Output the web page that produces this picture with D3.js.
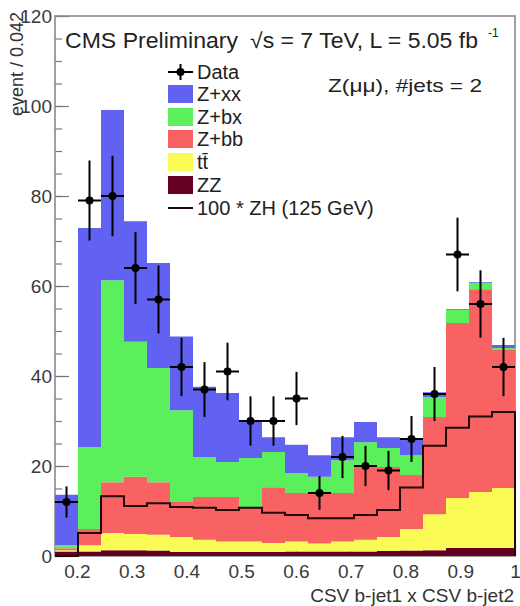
<!DOCTYPE html>
<html>
<head>
<meta charset="utf-8">
<script src="https://cdn.jsdelivr.net/npm/d3@7"></script>
<style>
  html, body { margin: 0; padding: 0; background: #fff; }
  svg { display: block; font-family: "Liberation Sans", Arial, sans-serif; }
</style>
</head>
<body>
<div id="chart"></div>
<script>
// bins of width 0.042 from 0.16 to 1.0 (lower edges)
const binLow = [0.160, 0.202, 0.244, 0.286, 0.328, 0.370, 0.412, 0.454, 0.496, 0.538,
                0.580, 0.622, 0.664, 0.706, 0.748, 0.790, 0.832, 0.874, 0.916, 0.958];
const binWidth = 0.042;

// stacked backgrounds (per-bin contributions, bottom to top)
const zz   = [1.0, 1.0, 1.3, 1.3, 1.2, 0.9, 0.9, 0.9, 0.9, 0.9, 1.0, 1.0, 1.0, 1.0, 1.1, 1.2, 1.3, 1.8, 1.8, 1.8];
const ttbar= [0.3, 1.4, 3.8, 3.6, 3.5, 3.3, 2.7, 2.3, 2.3, 2.0, 2.2, 1.8, 2.2, 2.6, 3.1, 4.8, 8.0, 11.1, 12.4, 13.3];
const zbb  = [0.4, 3.6, 11.3, 12.7, 11.7, 7.8, 9.5, 9.9, 7.7, 12.4, 10.8, 11.2, 10.8, 16.6, 15.6, 12.0, 21.6, 38.9, 45.1, 30.7];
const zbx  = [0.7, 18.2, 44.9, 30.0, 25.4, 20.4, 8.9, 7.8, 10.9, 7.8, 4.4, 3.6, 7.3, 5.1, 4.2, 4.4, 4.4, 2.9, 1.4, 0.4];
const zxx  = [11.2, 48.7, 37.8, 26.8, 23.3, 16.4, 15.6, 15.3, 8.4, 3.3, 6.3, 4.8, 5.1, 4.5, 2.4, 3.4, 1.1, 0.2, 0.2, 0.7];

// signal x100 and data counts
const zh100 = [0, 5.1, 13.3, 11.1, 11.7, 10.9, 10.7, 10.2, 10.7, 9.6, 9.1, 8.4, 8.4, 9.1, 10.2, 15.2, 24.5, 28.5, 31.0, 32.0];
const dataCounts = [12, 79, 80, 64, 57, 42, 37, 41, 30, 30, 35, 14, 22, 20, 19, 26, 36, 67, 56, 42];

const seriesKeys   = ['zz', 'tt', 'zbb', 'zbx', 'zxx'];
const seriesColors = { zz: '#660022', tt: '#fbfb55', zbb: '#f86262', zbx: '#5cef5c', zxx: '#6262f2' };

const xTicks = [0.2, 0.3, 0.4, 0.5, 0.6, 0.7, 0.8, 0.9, 1.0];
const yTicks = [0, 20, 40, 60, 80, 100, 120];

(function () {
  const W = 520, H = 606;
  const svg = d3.select('#chart').append('svg').attr('width', W).attr('height', H);

  const x = d3.scaleLinear().domain([0.16, 1.0]).range([55, 515]);
  const y = d3.scaleLinear().domain([0, 120]).range([556, 16]);

  // ---------- axes (drawn under the fills, like the original) ----------
  const yAxis = svg.append('g').attr('transform', `translate(${x(0.16)},0)`)
    .call(d3.axisLeft(y).tickValues(yTicks).tickSize(-14).tickPadding(3));
  svg.append('g').attr('transform', `translate(${x(0.16)},0)`)
    .call(d3.axisLeft(y).tickValues(d3.range(0, 121, 5)).tickSize(-7).tickFormat(''))
    .call(g => g.select('.domain').remove());
  yAxis.select('.domain').remove();

  const xAxis = svg.append('g').attr('transform', `translate(0,${y(0)})`)
    .call(d3.axisBottom(x).tickValues(xTicks).tickSize(-14).tickPadding(9)
      .tickFormat(d => d === 1 ? '1' : d3.format('.1f')(d)));
  xAxis.select('.domain').remove();

  svg.selectAll('.tick line').attr('stroke', '#777').attr('stroke-width', 1.2);
  svg.selectAll('.tick text').attr('font-size', 19).attr('fill', '#3a3a3a')
    .attr('font-family', '"Liberation Sans", Arial, sans-serif');

  // frame
  svg.append('rect')
    .attr('x', x(0.16)).attr('y', y(120))
    .attr('width', x(1.0) - x(0.16)).attr('height', y(0) - y(120))
    .attr('fill', 'none').attr('stroke', '#8a8a8a').attr('stroke-width', 1.6);

  // ---------- stacked histogram ----------
  const rows = binLow.map((lo, i) => ({
    lo, zz: zz[i], tt: ttbar[i], zbb: zbb[i], zbx: zbx[i], zxx: zxx[i]
  }));
  // extra closing point at the upper edge for step areas
  const last = rows[rows.length - 1];
  const rowsEdge = rows.concat([Object.assign({}, last, { lo: last.lo + binWidth })]);

  const stacked = d3.stack().keys(seriesKeys)(rowsEdge);
  const area = d3.area()
    .curve(d3.curveStepAfter)
    .x(d => x(d.data.lo))
    .y0(d => y(d[0]))
    .y1(d => y(d[1]));

  svg.append('g').selectAll('path')
    .data(stacked)
    .enter().append('path')
    .attr('d', area)
    .attr('fill', d => seriesColors[d.key]);

  // ---------- 100 * ZH line ----------
  const zhPts = [{ lo: 0.16, v: 0 }]
    .concat(binLow.map((lo, i) => ({ lo, v: zh100[i] })))
    .concat([{ lo: 1.0, v: zh100[zh100.length - 1] }, { lo: 1.0, v: 0 }]);
  const line = d3.line().curve(d3.curveStepAfter).x(d => x(d.lo)).y(d => y(d.v));
  svg.append('path')
    .attr('d', line(zhPts))
    .attr('fill', 'none')
    .attr('stroke', '#220808')
    .attr('stroke-width', 2);

  // ---------- data points ----------
  const pts = svg.append('g');
  binLow.forEach((lo, i) => {
    const n = dataCounts[i], e = Math.sqrt(n);
    const cx = x(lo + binWidth / 2);
    pts.append('line').attr('x1', cx).attr('x2', cx)
      .attr('y1', y(n - e)).attr('y2', y(n + e))
      .attr('stroke', '#000').attr('stroke-width', 2);
    pts.append('line').attr('x1', x(lo)).attr('x2', x(lo + binWidth))
      .attr('y1', y(n)).attr('y2', y(n))
      .attr('stroke', '#000').attr('stroke-width', 2);
    pts.append('circle').attr('cx', cx).attr('cy', y(n)).attr('r', 4).attr('fill', '#000');
  });

  // ---------- texts ----------
  const txt = (s, px, py, size, opts = {}) => {
    const t = svg.append('text').attr('x', px).attr('y', py)
      .attr('font-size', size).attr('fill', opts.fill || '#222')
      .attr('text-anchor', opts.anchor || 'start').text(s);
    if (opts.len) t.attr('textLength', opts.len).attr('lengthAdjust', 'spacingAndGlyphs');
    return t;
  };

  txt('CMS Preliminary', 65, 48, 22, { len: 173 });
  txt('\u221As = 7 TeV, L = 5.05 fb', 250, 48, 21.5, { len: 228 });
  txt('-1', 488, 37, 12);
  txt('Z(\u03BC\u03BC), #jets = 2', 328, 92, 19, { len: 154 });

  // y title
  svg.append('text')
    .attr('transform', 'translate(23,12) rotate(-90)')
    .attr('text-anchor', 'end')
    .attr('font-size', 18).attr('fill', '#333')
    .text('event / 0.042');

  // x title
  txt('CSV b-jet1 x CSV b-jet2', 514, 602, 19, { anchor: 'end', fill: '#333' });

  // ---------- legend ----------
  const lgX = 168, lgW = 25, lgTx = 197;
  const legendRows = [
    { label: 'Data', type: 'data', cy: 72 },
    { label: 'Z+xx', type: 'box', key: 'zxx', cy: 94 },
    { label: 'Z+bx', type: 'box', key: 'zbx', cy: 117 },
    { label: 'Z+bb', type: 'box', key: 'zbb', cy: 139 },
    { label: 't t\u0304', type: 'box', key: 'tt', cy: 162 },
    { label: 'ZZ', type: 'box', key: 'zz', cy: 185 },
    { label: '100 * ZH (125 GeV)', type: 'line', cy: 208 }
  ];
  const lg = svg.append('g');
  legendRows.forEach(r => {
    if (r.type === 'box') {
      lg.append('rect').attr('x', lgX).attr('y', r.cy - 9).attr('width', lgW).attr('height', 18)
        .attr('fill', seriesColors[r.key]);
    } else if (r.type === 'line') {
      lg.append('line').attr('x1', lgX).attr('x2', lgX + lgW).attr('y1', r.cy).attr('y2', r.cy)
        .attr('stroke', '#220808').attr('stroke-width', 2);
    } else {
      const cx = lgX + lgW / 2;
      lg.append('line').attr('x1', lgX).attr('x2', lgX + lgW).attr('y1', r.cy).attr('y2', r.cy)
        .attr('stroke', '#000').attr('stroke-width', 2);
      lg.append('line').attr('x1', cx).attr('x2', cx).attr('y1', r.cy - 8).attr('y2', r.cy + 8)
        .attr('stroke', '#000').attr('stroke-width', 2);
      lg.append('circle').attr('cx', cx).attr('cy', r.cy).attr('r', 4).attr('fill', '#000');
    }
    const t = lg.append('text').attr('x', lgTx).attr('y', r.cy + 7)
      .attr('font-size', 20).attr('fill', '#222');
    if (r.label.startsWith('t ')) {
      t.text('t');
      t.append('tspan').attr('dx', 0).text('t\u0304');
    } else {
      t.text(r.label);
    }
  });
})();
</script>
</body>
</html>
